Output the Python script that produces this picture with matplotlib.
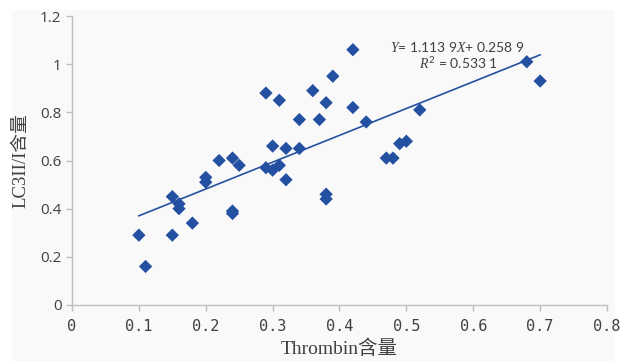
import matplotlib
matplotlib.use("Agg")
import matplotlib.pyplot as plt
import numpy as np
from matplotlib.patches import Rectangle

# Thrombin content vs LC3II/I content
thrombin = [0.10, 0.11, 0.15, 0.15, 0.16, 0.16, 0.18, 0.20, 0.20, 0.22,
            0.24, 0.24, 0.24, 0.25, 0.29, 0.29, 0.30, 0.30, 0.31, 0.31,
            0.32, 0.32, 0.34, 0.34, 0.36, 0.37, 0.38, 0.38, 0.38, 0.39,
            0.42, 0.42, 0.44, 0.47, 0.48, 0.49, 0.50, 0.52, 0.68, 0.70]
lc3 = [0.29, 0.16, 0.45, 0.29, 0.42, 0.40, 0.34, 0.53, 0.51, 0.60,
       0.61, 0.39, 0.38, 0.58, 0.88, 0.57, 0.66, 0.56, 0.85, 0.58,
       0.65, 0.52, 0.77, 0.65, 0.89, 0.77, 0.84, 0.46, 0.44, 0.95,
       1.06, 0.82, 0.76, 0.61, 0.61, 0.67, 0.68, 0.81, 1.01, 0.93]
slope = 1.1139
intercept = 0.2589
r2 = 0.5331
xticks = [0, 0.1, 0.2, 0.3, 0.4, 0.5, 0.6, 0.7, 0.8]
yticks = [0, 0.2, 0.4, 0.6, 0.8, 1, 1.2]

plt.rcParams['mathtext.fontset'] = 'custom'
plt.rcParams['mathtext.it'] = 'Liberation Serif:italic'
plt.rcParams['mathtext.rm'] = 'Lato'

blue = '#2450a2'
grey = '#bfbfbf'

fig = plt.figure(figsize=(6.22, 3.61), dpi=100)
fig.patch.set_facecolor('white')
# light panel behind the chart
fig.patches.append(Rectangle((12/622, 0), 603/622, 1 - 10/361, transform=fig.transFigure,
                             facecolor='#f9f9f9', edgecolor='none', zorder=-1))
ax = fig.add_axes([72/622, 1 - 305/361, 535/622, 289/361])
ax.set_facecolor('none')

ax.scatter(thrombin, lc3, marker='D', s=46, color=blue, edgecolors='none', zorder=3)

xl = np.array([min(thrombin), max(thrombin)])
ax.plot(xl, slope * xl + intercept, color=blue, lw=1.2, zorder=2)

ax.text(0.576, 1.071, r'$\mathit{Y}$= 1.113 9$\mathit{X}$+ 0.258 9', family='Lato',
        fontsize=10, color='#404040', ha='center', va='center')
ax.text(0.578, 1.005, r'$\mathit{R}^{\mathrm{2}}$ = 0.533 1', family='Lato',
        fontsize=10, color='#404040', ha='center', va='center')

ax.set_xlim(0, 0.8)
ax.set_ylim(0, 1.2)
ax.set_xticks(xticks)
ax.set_yticks(yticks)
ax.set_xticklabels([f'{v:g}' for v in xticks])
ax.set_yticklabels([f'{v:g}' for v in yticks])

for s in ['top', 'right']:
    ax.spines[s].set_visible(False)
for s in ['left', 'bottom']:
    ax.spines[s].set_color(grey)
    ax.spines[s].set_linewidth(1)
ax.tick_params(direction='out', length=4, width=1, color=grey,
               labelcolor='#404040', labelsize=11)
ax.tick_params(axis='x', pad=6)
for lab in ax.get_xticklabels():
    lab.set_family('DejaVu Sans Mono')
for lab in ax.get_yticklabels():
    lab.set_family(['Open Sans', 'DejaVu Sans'])

ax.set_xlabel('Thrombin含量', family=['Liberation Serif', 'Noto Sans CJK SC'],
              fontsize=14, color='#404040', labelpad=4)
ax.set_ylabel('LC3II/I含量', family=['Liberation Serif', 'Noto Sans CJK SC'],
              fontsize=13.5, color='#404040', labelpad=8)

fig.savefig('out.png', dpi=100, facecolor='white')
